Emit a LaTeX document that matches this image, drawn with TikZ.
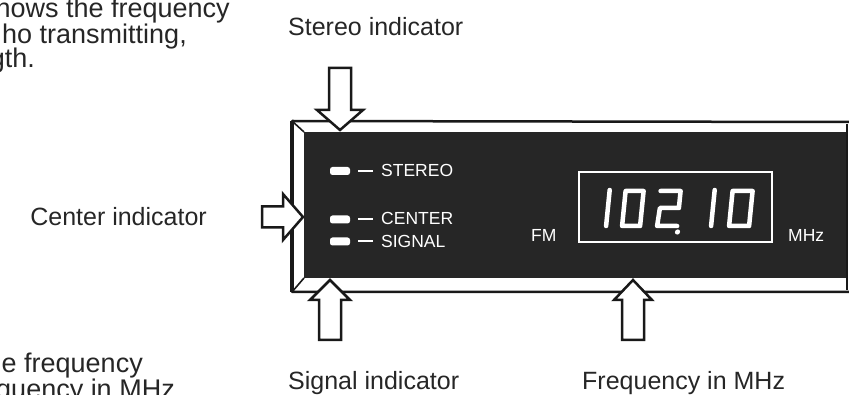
\documentclass[tikz,border=0pt]{standalone}
\usepackage{fontspec}
\setmainfont{Liberation Sans}
\newfontfamily\labfont{Liberation Sans}
\begin{document}
\begin{tikzpicture}[x=1pt,y=-1pt,
  lbl/.style={inner sep=0pt, font=\labfont\fontsize{25}{30}\selectfont, text=black!85},
  para/.style={inner sep=0pt, font=\labfont\fontsize{27}{30}\selectfont, text=black!85},
  dlbl/.style={inner sep=0pt, font=\labfont\fontsize{17.5}{20}\selectfont, text=white},
  framel/.style={draw=black!90, line width=2.5pt, line join=round},
  panel/.style={fill=black!85, draw=none},
  arrowbox/.style={draw=black!90, fill=white, line width=2.5pt, line join=miter},
  ledbox/.style={fill=white, rounded corners=2.5pt},
  dashln/.style={draw=white, line width=2pt},
  digit/.style={draw=white, line width=4.5pt, line cap=round, line join=round},
  dispbox/.style={draw=white, line width=2.6pt}
]
\useasboundingbox (0,0) rectangle (849,395);

% cut-off paragraph fragments
\node[para, anchor=base east] (p1) at (230,18) {hows the frequency};
\node[para, anchor=base east] (p2) at (187,44) {ho transmitting,};
\node[para, anchor=base east] (p3) at (35,68) {gth.};
\node[para, anchor=base east] (p4) at (143,373) {e frequency};
\node[para, anchor=base east] (p5) at (175,398) {quency in MHz};

% frame and panel
\coordinate (otl) at (292,121);
\coordinate (obl) at (292,292);
\coordinate (itl) at (304,132);
\coordinate (ibl) at (304,278);
\fill[white] (292,121) rectangle (849,292);
\path[panel] (304,132) rectangle (846,278);
\draw[framel] (849,122) -- (otl) -- (obl) -- (849,292);
\draw[framel, line width=4pt] (otl) -- (obl);
\draw[framel, line width=1.6pt] (otl) -- (itl);
\draw[framel, line width=1.6pt] (obl) -- (ibl);
\draw[framel, line width=1.6pt] (847,124) -- (847,290);

% indicators
\foreach \n/\yy/\t in {stereo/171/STEREO, center/219.5/CENTER, signal/241.5/SIGNAL}{
  \path[ledbox] (330,\yy-4) rectangle (350,\yy+4);
  \draw[dashln] (358,\yy) -- (373,\yy);
}
\node[dlbl, anchor=base west] (tstereo) at (381,177) {STEREO};
\node[dlbl, anchor=base west] (tcenter) at (381,225) {CENTER};
\node[dlbl, anchor=base west] (tsignal) at (381,248) {SIGNAL};
\node[dlbl, anchor=base west] (tfm) at (531,242) {FM};
\node[dlbl, anchor=base west] (tmhz) at (788,242) {MHz};

% frequency display
\draw[dispbox] (579,172) rectangle (772,242);
% digit 1
\begin{scope}[shift={(604,227)}, xslant=0.1]
  \draw[digit] (2,-37) -- (2,-1);
\end{scope}
% digit 0
\begin{scope}[shift={(621,227)}, xslant=0.1]
  \draw[digit] (1,-36) -- (1,-1) -- (19,-1) -- (19,-36) -- cycle;
\end{scope}
% digit 2 with decimal point
\begin{scope}[shift={(656,227)}, xslant=0.1]
  \draw[digit] (1,-36) -- (21,-36) -- (21,-19) -- (2,-19) -- (1,-1) -- (21,-1);
  \fill[white] (22,5) circle (2.6pt);
\end{scope}
% digit 1
\begin{scope}[shift={(709,227)}, xslant=0.1]
  \draw[digit] (2,-37) -- (2,-1);
\end{scope}
% digit 0
\begin{scope}[shift={(728,227)}, xslant=0.1]
  \draw[digit] (1,-36) -- (1,-1) -- (21,-1) -- (21,-36) -- cycle;
\end{scope}

% arrow tips
\coordinate (stereotip) at (340,130);
\coordinate (centertip) at (303,217);
\coordinate (signaltip) at (330,280);
\coordinate (freqtip) at (633,280);

\draw[arrowbox, shift={(stereotip)}] (0,0) -- (-23,-20) -- (-11,-20) -- (-11,-62) -- (11,-62) -- (11,-20) -- (23,-20) -- cycle;
\draw[arrowbox, shift={(centertip)}, rotate=90] (0,0) -- (-23,-20) -- (-10.5,-20) -- (-10.5,-41) -- (10.5,-41) -- (10.5,-20) -- (23,-20) -- cycle;
\draw[arrowbox, shift={(signaltip)}, rotate=180] (0,0) -- (-20,-20) -- (-11,-20) -- (-11,-60) -- (11,-60) -- (11,-20) -- (20,-20) -- cycle;
\draw[arrowbox, shift={(freqtip)}, rotate=180] (0,0) -- (-19,-20) -- (-11,-20) -- (-11,-60) -- (11,-60) -- (11,-20) -- (19,-20) -- cycle;

% labels
\node[lbl, anchor=base west] (lstereo) at (288,36) {Stereo indicator};
\node[lbl, anchor=base east] (lcenter) at (207,226) {Center indicator};
\node[lbl, anchor=base west] (lsignal) at (288,389) {Signal indicator};
\node[lbl, anchor=base west] (lfreq) at (582,389) {Frequency in MHz};
\end{tikzpicture}
\end{document}
